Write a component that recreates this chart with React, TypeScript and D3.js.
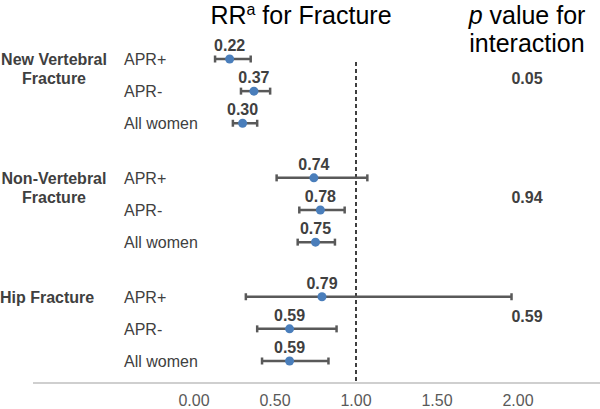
import React from "react";
import * as d3 from "d3";

type TRow = {
  group: number;
  sub: string;
  rr: number;
  lo: number;
  hi: number;
};

const groups: string[][] = [
  ["New Vertebral", "Fracture"],
  ["Non-Vertebral", "Fracture"],
  ["Hip Fracture"],
];
const subgroups = ["APR+", "APR-", "All women"];

// relative risk and 95% CI per group (rows: APR+, APR-, All women)
const rrValues = [
  [0.22, 0.37, 0.3],
  [0.74, 0.78, 0.75],
  [0.79, 0.59, 0.59],
];
const lowerCI = [
  [0.13, 0.29, 0.24],
  [0.51, 0.65, 0.64],
  [0.32, 0.39, 0.42],
];
const upperCI = [
  [0.35, 0.47, 0.39],
  [1.07, 0.93, 0.87],
  [1.96, 0.88, 0.83],
];
const pValues = ["0.05", "0.94", "0.59"];
const xTicks = [0, 0.5, 1, 1.5, 2];

const rows: TRow[] = rrValues.flatMap((g, gi) =>
  g.map((v, i) => ({
    group: gi,
    sub: subgroups[i],
    rr: v,
    lo: lowerCI[gi][i],
    hi: upperCI[gi][i],
  }))
);

const width = 600;
const height = 409;
const font = "'Liberation Sans', Arial, sans-serif";
const gray = "#595959";
const blue = "#4a7ebb";

const x = d3.scaleLinear().domain([0, 2]).range([194, 518]);

// groups are spaced 3.7 row-slots apart
const groupGap = 3.7;
const slot = (g: number, i: number) => g * groupGap + i;
const y = d3
  .scaleLinear()
  .domain([0, slot(2, 2)])
  .range([59, 361]);

const axisY = 383;

const App = () => {
  return (
    <svg
      width={width}
      height={height}
      style={{ position: "absolute", left: 0, top: 0, background: "#fff" }}
      fontFamily={font}
    >
      {/* headers */}
      <text x={301} y={24} fontSize={25} textAnchor="middle" fill="#000">
        RR
        <tspan fontSize={16} dy={-9}>
          a
        </tspan>
        <tspan dy={9}> for Fracture</tspan>
      </text>
      <text x={527} y={24} fontSize={25} textAnchor="middle" fill="#000">
        <tspan fontStyle="italic">p</tspan> value for
      </text>
      <text x={527} y={52} fontSize={25} textAnchor="middle" fill="#000">
        interaction
      </text>

      {/* group labels and p values */}
      {groups.map((lines, gi) => {
        const y0 = y(slot(gi, 0));
        const mid = (y(slot(gi, 0)) + y(slot(gi, 1))) / 2;
        return (
          <g key={gi}>
            {lines.map((l, li) => (
              <text
                key={li}
                x={lines.length > 1 ? 54 : 0}
                y={y0 + 6 + li * 19}
                fontSize={16}
                fontWeight="bold"
                textAnchor={lines.length > 1 ? "middle" : "start"}
                fill="#404040"
              >
                {l}
              </text>
            ))}
            <text
              x={527}
              y={mid + 9}
              fontSize={16}
              fontWeight="bold"
              textAnchor="middle"
              fill="#404040"
            >
              {pValues[gi]}
            </text>
          </g>
        );
      })}

      {/* reference line at RR = 1 */}
      <line
        x1={x(1)}
        x2={x(1)}
        y1={62}
        y2={axisY}
        stroke="#000"
        strokeWidth={1.5}
        strokeDasharray="4,3"
      />

      {/* rows */}
      {rows.map((d, i) => {
        const cy = y(slot(d.group, subgroups.indexOf(d.sub)));
        return (
          <g key={i}>
            <text x={124} y={cy + 6} fontSize={16} fill="#404040">
              {d.sub}
            </text>
            <line
              x1={x(d.lo)}
              x2={x(d.hi)}
              y1={cy}
              y2={cy}
              stroke={gray}
              strokeWidth={2.5}
            />
            <line x1={x(d.lo)} x2={x(d.lo)} y1={cy - 3.5} y2={cy + 3.5} stroke={gray} strokeWidth={2.5} />
            <line x1={x(d.hi)} x2={x(d.hi)} y1={cy - 3.5} y2={cy + 3.5} stroke={gray} strokeWidth={2.5} />
            <circle cx={x(d.rr)} cy={cy} r={4.5} fill={blue} />
            <text
              x={x(d.rr)}
              y={cy - 8}
              fontSize={16}
              fontWeight="bold"
              textAnchor="middle"
              fill="#404040"
            >
              {d.rr.toFixed(2)}
            </text>
          </g>
        );
      })}

      {/* x axis */}
      <line x1={33} x2={width} y1={axisY} y2={axisY} stroke="#bfbfbf" strokeWidth={1.5} />
      {xTicks.map((t) => (
        <text
          key={t}
          x={x(t)}
          y={406}
          fontSize={16}
          textAnchor="middle"
          fill={gray}
        >
          {t.toFixed(2)}
        </text>
      ))}
    </svg>
  );
};

export default App;
